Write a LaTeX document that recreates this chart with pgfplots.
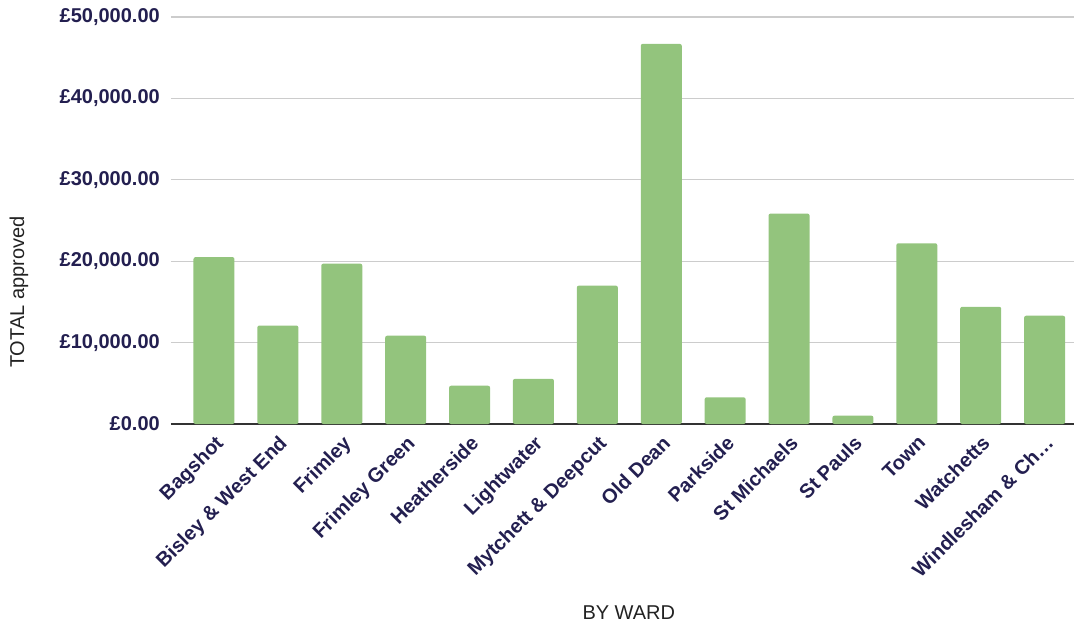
\documentclass[border=0pt]{standalone}
\usepackage{fontspec}
\setmainfont{Liberation Sans}
\usepackage{pgfplots}
\pgfplotsset{compat=1.18}
\definecolor{barg}{HTML}{93C47D}
\definecolor{navy}{HTML}{231F50}
\definecolor{gridc}{HTML}{CCCCCC}
\definecolor{titlec}{HTML}{222222}
\definecolor{basec}{HTML}{333333}

\begin{document}
\begin{tikzpicture}
\begin{axis}[
  at={(0,0)}, anchor=south west,
  scale only axis, width=903pt, height=407pt,
  xmin=-0.673, xmax=13.46, ymin=0, ymax=50000,
  ybar, bar width=41pt,
  axis x line*=bottom, axis y line*=left,
  y axis line style={draw=none},
  x axis line style={-, draw=basec, line width=1.5pt},
  ymajorgrids, grid style={draw=gridc, line width=1.3pt},
  major tick length=0pt,
  scaled y ticks=false,
  ytick={0,10000,20000,30000,40000,50000},
  /pgf/number format/assume math mode=true,
  yticklabel={£\pgfmathprintnumber[fixed, fixed zerofill, precision=2, 1000 sep={,}]{\tick}},
  tick label style={font=\bfseries\fontsize{20}{22}\selectfont, text=navy},
  yticklabel style={anchor=east, inner sep=0pt, xshift=-11pt},
  xtick={0,...,13},
  xticklabels={Bagshot, Bisley \& West End, Frimley, Frimley Green, Heatherside, Lightwater, Mytchett \& Deepcut, Old Dean, Parkside, St Michaels, St Pauls, Town, Watchetts, Windlesham \& Ch…},
  xticklabel style={xshift=0pt, yshift=-10pt, rotate=45, anchor=north east, inner sep=0pt},
  xlabel={BY WARD},
  ylabel={TOTAL approved},
  every axis x label/.style={at={(axis description cs:0.507,-0.464)}, anchor=center, font=\fontsize{20}{22}\selectfont, text=titlec},
  every axis y label/.style={at={(axis description cs:-0.1683,0.324)}, anchor=center, rotate=90, font=\fontsize{20}{22}\selectfont, text=titlec},
]
\addplot[fill=barg, draw=none, rounded corners=2pt] coordinates {
  (0,20500) (1,12100) (2,19700) (3,10850) (4,4700) (5,5550) (6,17000)
  (7,46700) (8,3280) (9,25850) (10,1020) (11,22200) (12,14400) (13,13300)
};
\end{axis}
\pgfresetboundingbox
\path[use as bounding box] (-171pt,-200pt) rectangle (903pt,424pt);
\end{tikzpicture}
\end{document}
